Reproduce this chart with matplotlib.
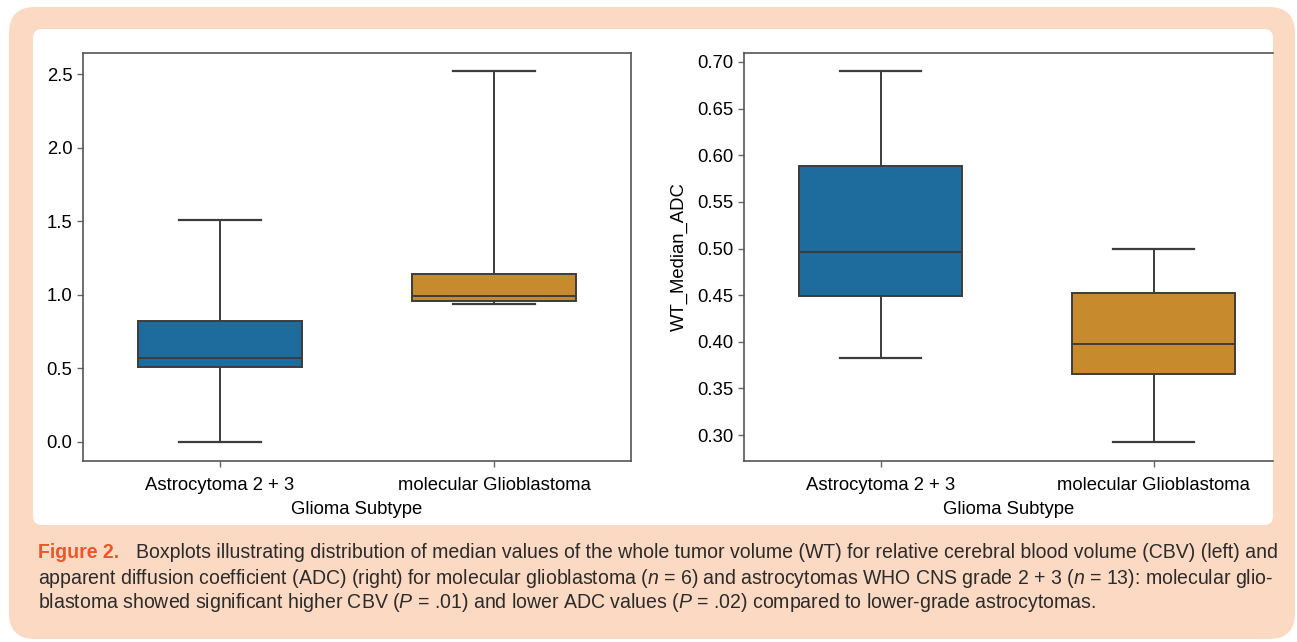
import matplotlib
matplotlib.use("Agg")
import matplotlib.pyplot as plt
from matplotlib.patches import FancyBboxPatch

# ---- data ----
subtypes = ["Astrocytoma 2 + 3", "molecular Glioblastoma"]

# relative CBV (left panel): whisker low, Q1, median, Q3, whisker high
cbv_low = [0.00, 0.939]
cbv_q1 = [0.511, 0.955]
cbv_med = [0.568, 0.994]
cbv_q3 = [0.824, 1.14]
cbv_high = [1.507, 2.52]

# ADC (right panel)
adc_low = [0.383, 0.293]
adc_q1 = [0.449, 0.365]
adc_med = [0.496, 0.398]
adc_q3 = [0.589, 0.452]
adc_high = [0.690, 0.499]

box_colors = ["#1e6c9e", "#c78a2c"]
line_col = "#3c3c3c"

caption_head = "Figure 2."
caption_lines = [
    "Boxplots illustrating distribution of median values of the whole tumor volume (WT) for relative cerebral blood volume (CBV) (left) and",
    r"apparent diffusion coefficient (ADC) (right) for molecular glioblastoma ($\mathit{n}$ = 6) and astrocytomas WHO CNS grade 2 + 3 ($\mathit{n}$ = 13): molecular glio-",
    r"blastoma showed significant higher CBV ($\mathit{P}$ = .01) and lower ADC values ($\mathit{P}$ = .02) compared to lower-grade astrocytomas.",
]

plt.rcParams["font.family"] = ["Liberation Sans", "DejaVu Sans"]
plt.rcParams["mathtext.fontset"] = "custom"
plt.rcParams["mathtext.rm"] = "Liberation Sans"
plt.rcParams["mathtext.it"] = "Liberation Sans:italic"

W, H = 1297, 642
fig = plt.figure(figsize=(W / 100, H / 100), dpi=100)
fig.patch.set_facecolor("white")

# background frame drawn in pixel coordinates
bg = fig.add_axes([0, 0, 1, 1])
bg.set_xlim(0, W)
bg.set_ylim(H, 0)
bg.axis("off")
bg.add_patch(FancyBboxPatch((9 + 26, 7 + 26), 1286 - 52, 632 - 52,
                            boxstyle="round,pad=26", fc="#fbd9c3", ec="none"))
bg.add_patch(FancyBboxPatch((33 + 9, 29 + 9), 1240 - 18, 496 - 18,
                            boxstyle="round,pad=9", fc="white", ec="none"))

fs = 13.3
ppu = 273.0  # pixels per category step


def stats(low, q1, med, q3, high):
    out = []
    for i in range(len(low)):
        out.append(dict(whislo=low[i], q1=q1[i], med=med[i], q3=q3[i],
                        whishi=high[i], fliers=[], label=subtypes[i]))
    return out


def draw_box(ax, st, width=0.6):
    bp = ax.bxp(st, positions=range(len(st)), widths=width, patch_artist=True,
                showfliers=False,
                boxprops=dict(edgecolor=line_col, linewidth=1.4),
                medianprops=dict(color=line_col, linewidth=1.4),
                whiskerprops=dict(color=line_col, linewidth=1.4),
                capprops=dict(color=line_col, linewidth=1.6),
                capwidths=width / 2)
    for patch, c in zip(bp["boxes"], box_colors):
        patch.set_facecolor(c)
    ax.set_xticks(range(len(st)))
    ax.set_xticklabels(subtypes)
    ax.set_xlabel("Glioma Subtype", fontsize=fs, labelpad=5)
    ax.tick_params(labelsize=fs, length=4, color="#666666", width=1, pad=3.5)
    ax.tick_params(axis="x", pad=7.5)
    for s in ax.spines.values():
        s.set_color("#555555")
        s.set_linewidth(1.2)


# left: relative CBV
ax1 = fig.add_axes([83 / W, 1 - 461 / H, 548 / W, (461 - 53) / H])
draw_box(ax1, stats(cbv_low, cbv_q1, cbv_med, cbv_q3, cbv_high))
ax1.set_xlim(-0.5, 1.5)
ax1.set_ylim(-0.131, 2.643)
ax1.set_yticks([0.0, 0.5, 1.0, 1.5, 2.0, 2.5])
ax1.set_yticklabels(["0.0", "0.5", "1.0", "1.5", "2.0", "2.5"])

# right: ADC (cut off by the white panel on the right, as in the source)
ax2 = fig.add_axes([744 / W, 1 - 461 / H, (1273 - 744) / W, (461 - 53) / H])
draw_box(ax2, stats(adc_low, adc_q1, adc_med, adc_q3, adc_high))
ax2.set_xlim(-0.5, -0.5 + (1273 - 744) / ppu)
ax2.set_ylim(0.7 - (461 - 62) / 932.5, 0.7 + (62 - 53) / 932.5)
ax2.set_yticks([0.30, 0.35, 0.40, 0.45, 0.50, 0.55, 0.60, 0.65, 0.70])
ax2.set_yticklabels(["0.30", "0.35", "0.40", "0.45", "0.50", "0.55", "0.60", "0.65", "0.70"])
ax2.spines["right"].set_visible(False)
ax2.set_ylabel("WT_Median_ADC", fontsize=fs, labelpad=6.5)

# caption: size chosen so the justified lines fit the frame
renderer = fig.canvas.get_renderer()
targets = [(136, 1283), (38, 1283)]
sizes = []
for line, (x0, x1) in zip(caption_lines[:2], targets):
    t = bg.text(0, 0, line, fontsize=10)
    w = t.get_window_extent(renderer).width
    t.remove()
    sizes.append(10 * (x1 - x0) / w)
cap_size = min(sizes)

bg.text(38, 553, caption_head, color="#e8582b", fontweight="bold",
        fontsize=cap_size, va="center", ha="left")
bg.text(136, 553, caption_lines[0], color="#2b2b2b", fontsize=cap_size,
        va="center", ha="left")
bg.text(38, 578, caption_lines[1], color="#2b2b2b", fontsize=cap_size,
        va="center", ha="left")
bg.text(38, 602, caption_lines[2], color="#2b2b2b", fontsize=cap_size,
        va="center", ha="left")

fig.savefig("out.png", dpi=100)
